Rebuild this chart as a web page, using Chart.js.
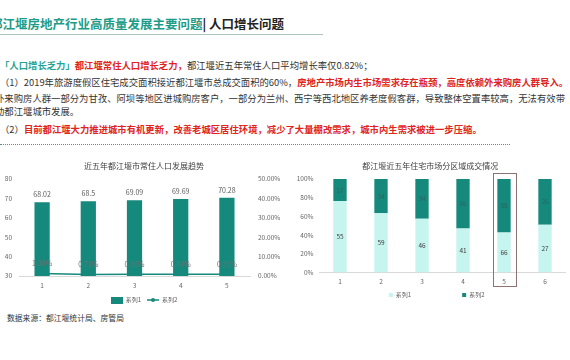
<!DOCTYPE html>
<html lang="zh">
<head>
<meta charset="UTF-8">
<title>都江堰房地产行业高质量发展主要问题 | 人口增长问题</title>
<script src="https://cdn.jsdelivr.net/npm/chart.js"></script>
<style>
  body { margin: 0; width: 570px; height: 360px; background: #fff; position: relative; overflow: hidden;
         font-family: "Noto Sans CJK SC", sans-serif; }
  .abs { position: absolute; white-space: nowrap; }
  #title { left: -10px; top: 16px; font-size: 12.5px; font-weight: bold; line-height: 16px; color: #1c9c89; }
  #title span { color: #222; }
  #rule { left: 0; top: 34px; width: 323px; height: 1px; background: #aac6c1; }
  .line { font-size: 9.35px; line-height: 12px; color: #333; }
  .red { color: #e0231c; font-weight: bold; }
  .teal { color: #1fa392; font-weight: bold; }
  #dots { left: 0; top: 144px; width: 510px; height: 0; border-top: 1px dotted #5f8f8c; }
  #src { left: 7px; top: 312px; font-size: 7.8px; line-height: 11px; color: #333; }
  #popWrap { left: 0; top: 150px; width: 290px; height: 170px; }
  #areaWrap { left: 290px; top: 150px; width: 280px; height: 170px; }
</style>
</head>
<body>
<div class="abs" id="title">都江堰房地产行业高质量发展主要问题<span>| 人口增长问题</span></div>
<div class="abs" id="rule"></div>

<div class="abs line" style="left:0; top:59px;"><span class="teal">「人口增长乏力」</span><span class="red">都江堰常住人口增长乏力，</span>都江堰近五年常住人口平均增长率仅0.82%；</div>
<div class="abs line" style="left:0; top:76px;">（1）2019年旅游度假区住宅成交面积接近都江堰市总成交面积的60%，<span class="red">房地产市场内生市场需求存在瓶颈，高度依赖外来购房人群导入。</span></div>
<div class="abs line" style="left:-5px; top:92px;">外来购房人群一部分为甘孜、阿坝等地区进城购房客户，一部分为兰州、西宁等西北地区养老度假客群，导致整体空置率较高，无法有效带</div>
<div class="abs line" style="left:-5px; top:105px;">动都江堰城市发展。</div>
<div class="abs line" style="left:0; top:123px;">（2）<span class="red">目前都江堰大力推进城市有机更新，改善老城区居住环境，减少了大量棚改需求，城市内生需求被进一步压缩。</span></div>

<div class="abs" id="dots"></div>

<div class="abs" id="src">数据来源：都江堰统计局、房管局</div>

<div class="abs" id="popWrap"><canvas id="popChart"></canvas></div>
<div class="abs" id="areaWrap"><canvas id="areaChart"></canvas></div>

<script>
// --- 数据 ---
const popLabels = ['1', '2', '3', '4', '5'];
const popValues = [68.02, 68.5, 69.09, 69.69, 70.28];     // 常住人口（万人）
const growthRates = [1.34, 0.71, 0.86, 0.87, 0.85];       // 增长率 %

const areaLabels = ['1', '2', '3', '4', '5', '6'];
const areaSeries1 = [55, 59, 46, 41, 66, 27];
const areaSeries2 = [17, 34, 34, 46, 88, 26];
const highlightIndex = 4;

const TEAL = '#15897c';
const LIGHT = '#c6f5f0';
const GRAY = '#595959';
const FONT = '"Noto Sans CJK SC", sans-serif';

Chart.defaults.font.family = FONT;
Chart.defaults.color = GRAY;

// 100% 堆积用的比例
const totals = areaSeries1.map((v, i) => v + areaSeries2[i]);
const share1 = areaSeries1.map((v, i) => v / totals[i] * 100);
const share2 = areaSeries2.map((v, i) => v / totals[i] * 100);

function swatch(w, h, draw) {
    const c = document.createElement('canvas');
    c.width = w; c.height = h;
    draw(c.getContext('2d'));
    return c;
}

// 数据标签
const valueLabels = {
    id: 'valueLabels',
    afterDatasetsDraw(chart, args, opts) {
        const ctx = chart.ctx;
        ctx.save();
        ctx.font = (opts.size || 8) + 'px ' + FONT;
        ctx.textAlign = 'center';
        chart.data.datasets.forEach((ds, di) => {
            const meta = chart.getDatasetMeta(di);
            const cfg = opts.sets[di];
            if (!cfg) return;
            ctx.fillStyle = cfg.color;
            meta.data.forEach((el, i) => {
                let y;
                if (cfg.pos === 'center') {
                    ctx.textBaseline = 'middle';
                    y = (el.y + el.base) / 2;
                } else {
                    ctx.textBaseline = 'bottom';
                    y = el.y - cfg.offset;
                }
                ctx.fillText(cfg.text(i), el.x, y);
            });
        });
        ctx.restore();
    }
};

// 第5根柱子的框
const highlightBox = {
    id: 'highlightBox',
    afterDraw(chart) {
        const x = chart.scales.x.getPixelForValue(highlightIndex);
        const area = chart.chartArea;
        const ctx = chart.ctx;
        ctx.save();
        ctx.strokeStyle = '#8d7272';
        ctx.lineWidth = 1;
        ctx.strokeRect(Math.round(x - 11.5) + 0.5, Math.round(area.top - 6) + 0.5, 23, Math.round(area.bottom - area.top + 19));
        ctx.restore();
    }
};

const legendBar = swatch(12, 7, c => { c.fillStyle = TEAL; c.fillRect(0, 0, 12, 7); });
const legendLine = swatch(12, 6, c => {
    c.strokeStyle = TEAL; c.lineWidth = 1.5;
    c.beginPath(); c.moveTo(0, 3); c.lineTo(12, 3); c.stroke();
    c.fillStyle = TEAL; c.beginPath(); c.arc(6, 3, 2, 0, Math.PI * 2); c.fill();
});

new Chart(document.getElementById('popChart'), {
    type: 'bar',
    data: {
        labels: popLabels,
        datasets: [
            { label: '系列1', data: popValues, backgroundColor: TEAL, yAxisID: 'y', order: 1,
              categoryPercentage: 1, barPercentage: 0.33 },
            { type: 'line', label: '系列2', data: growthRates, borderColor: TEAL, borderWidth: 1.5,
              pointRadius: 0, yAxisID: 'y1', order: 0 }
        ]
    },
    options: {
        responsive: true,
        maintainAspectRatio: false,
        animation: false,
        layout: { padding: { left: 0, right: 2, top: 0, bottom: 7 } },
        plugins: {
            title: { display: true, text: '近五年都江堰市常住人口发展趋势', color: '#404040',
                     font: { size: 8, weight: 'normal' }, padding: { top: 11, bottom: 8.4 } },
            legend: {
                position: 'bottom',
                labels: {
                    usePointStyle: true, pointStyleWidth: 12, font: { size: 6 }, color: GRAY, padding: 6,
                    generateLabels: chart => chart.data.datasets.map((ds, i) => ({
                        text: ds.label, datasetIndex: i, fontColor: GRAY,
                        pointStyle: i === 0 ? legendBar : legendLine,
                        fillStyle: TEAL, strokeStyle: TEAL, lineWidth: 0, hidden: false
                    }))
                }
            },
            tooltip: { enabled: false },
            valueLabels: {
                size: 7,
                sets: [
                    { color: GRAY, offset: 4, text: i => String(popValues[i]) },
                    { color: '#6f6f6f', offset: 6.5, text: i => growthRates[i].toFixed(2) + '%' }
                ]
            }
        },
        scales: {
            x: { grid: { display: false, drawTicks: false }, border: { color: '#d9d9d9' },
                 ticks: { font: { size: 6.5 }, color: '#666', padding: 6 },
                 afterFit: axis => { axis.height = 15; } },
            y: { position: 'left', min: 30, max: 80, grid: { display: false, drawTicks: false },
                 border: { display: false },
                 ticks: { stepSize: 10, font: { size: 6.5 }, color: '#666', padding: 7 },
                 afterFit: axis => { axis.width = 19; } },
            y1: { position: 'right', min: 0, max: 50, grid: { display: false, drawTicks: false },
                  border: { display: false },
                  ticks: { stepSize: 10, font: { size: 6.5 }, color: '#666', padding: 8,
                           callback: v => v.toFixed(2) + '%' },
                  afterFit: axis => { axis.width = 38; } }
        }
    },
    plugins: [valueLabels]
});

new Chart(document.getElementById('areaChart'), {
    type: 'bar',
    data: {
        labels: areaLabels,
        datasets: [
            { label: '系列1', data: share1, backgroundColor: LIGHT, categoryPercentage: 1, barPercentage: 0.325 },
            { label: '系列2', data: share2, backgroundColor: TEAL, categoryPercentage: 1, barPercentage: 0.325 }
        ]
    },
    options: {
        responsive: true,
        maintainAspectRatio: false,
        animation: false,
        layout: { padding: { left: 5, right: 4.5, top: 0, bottom: 12 } },
        plugins: {
            title: { display: true, text: '都江堰近五年住宅市场分区域成交情况', color: '#404040',
                     font: { size: 8, weight: 'normal' }, padding: { top: 11, bottom: 8.4 } },
            legend: {
                position: 'bottom',
                align: 'end',
                labels: {
                    boxWidth: 4, boxHeight: 4, font: { size: 6 }, color: GRAY, padding: 0,
                    // 用全角空格撑开两项的间距
                    generateLabels: chart => chart.data.datasets.map((ds, i) => ({
                        text: ds.label + (i === 0 ? '\u3000'.repeat(8) : '\u3000'.repeat(13)) + '\u2002',
                        datasetIndex: i, fontColor: GRAY,
                        fillStyle: ds.backgroundColor, strokeStyle: ds.backgroundColor, lineWidth: 0, hidden: false
                    }))
                }
            },
            tooltip: { enabled: false },
            valueLabels: {
                size: 6.5,
                sets: [
                    { color: '#404040', pos: 'center', text: i => String(areaSeries1[i]) },
                    { color: '#2e6660', pos: 'center', text: i => String(areaSeries2[i]) }
                ]
            }
        },
        scales: {
            x: { stacked: true, grid: { display: false, drawTicks: false }, border: { color: '#d9d9d9' },
                 ticks: { font: { size: 6.5 }, color: '#666', padding: 5 },
                 afterFit: axis => { axis.height = 19.5; } },
            y: { stacked: true, min: 0, max: 100, grid: { display: false, drawTicks: false },
                 border: { display: false },
                 ticks: { stepSize: 10, font: { size: 6.5 }, color: '#666', padding: 6, callback: v => v + '%' },
                 afterFit: axis => { axis.width = 24.5; } }
        }
    },
    plugins: [valueLabels, highlightBox]
});
</script>
</body>
</html>
